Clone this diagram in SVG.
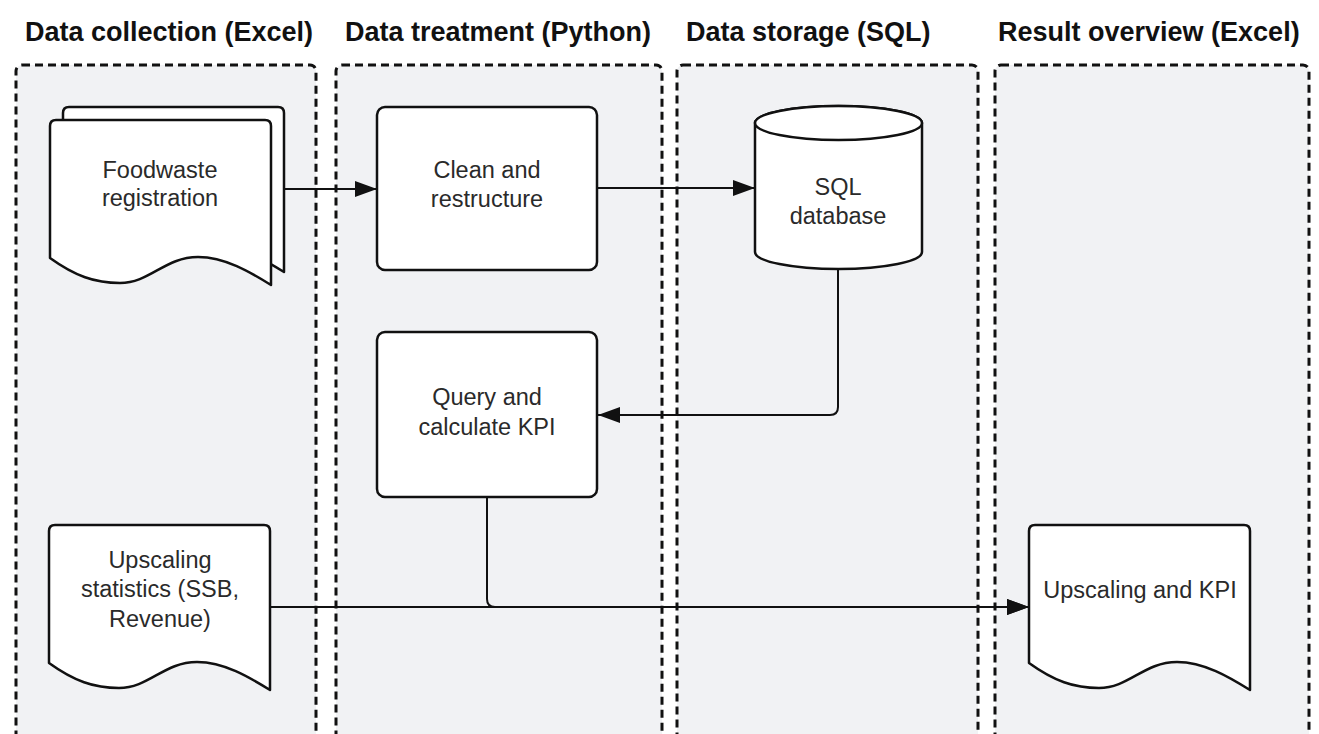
<svg xmlns="http://www.w3.org/2000/svg" xmlns:xlink="http://www.w3.org/1999/xlink" width="1319" height="734" viewBox="0 0 1319 734">
<style>
.lane{fill:#f1f2f4;stroke:#111;stroke-width:3;stroke-dasharray:8 5}
.title{font-family:"Liberation Sans",Arial,sans-serif;font-weight:bold;font-size:27px;fill:#111}
.node{fill:#fff;stroke:#111;stroke-width:2.5;stroke-linejoin:round}
.label{font-family:"Liberation Sans",Arial,sans-serif;font-size:23.5px;fill:#2a2a2a;text-anchor:middle}
.conn{fill:none;stroke:#111;stroke-width:2}
</style>
<defs>
<path id="doc" d="M0,138 V6 Q0,0 6,0 H215 Q221,0 221,6 V165 C200,152 175,137 148,137 C115,137 100,163 70,163 C45,163 25,156 0,138 Z"/>
<marker id="arr" markerUnits="userSpaceOnUse" viewBox="0 0 22 16" refX="22" refY="8" markerWidth="22" markerHeight="16" orient="auto">
<path d="M0,0 L22,8 L0,16 Z" fill="#111"/>
</marker>
</defs>
<rect width="1319" height="734" fill="#fff"/>
<g id="lanes">
<rect class="lane" x="16" y="65" width="300" height="720" rx="6"/>
<rect class="lane" x="336" y="65" width="326" height="720" rx="6"/>
<rect class="lane" x="677" y="65" width="301" height="720" rx="6"/>
<rect class="lane" x="995" y="65" width="314" height="720" rx="6"/>
<text class="title" x="25" y="41">Data collection (Excel)</text>
<text class="title" x="345" y="41">Data treatment (Python)</text>
<text class="title" x="686" y="41">Data storage (SQL)</text>
<text class="title" x="998" y="41">Result overview (Excel)</text>
</g>
<g id="connectors">
<path class="conn" d="M283,189 H377" marker-end="url(#arr)"/>
<path class="conn" d="M597,188 H755" marker-end="url(#arr)"/>
<path class="conn" d="M838,269 V407 Q838,415 830,415 H598" marker-end="url(#arr)"/>
<path class="conn" d="M270,607 H1029" marker-end="url(#arr)"/>
<path class="conn" d="M487,497 V599 Q487,607 495,607 H1029" marker-end="url(#arr)"/>
</g>
<g id="foodwaste">
<use xlink:href="#doc" href="#doc" class="node" x="63" y="107"/>
<use xlink:href="#doc" href="#doc" class="node" x="50" y="120"/>
<text class="label" x="160" y="178">Foodwaste</text>
<text class="label" x="160" y="206">registration</text>
</g>
<g id="clean">
<rect class="node" x="377" y="107" width="220" height="163" rx="8"/>
<text class="label" x="487" y="178">Clean and</text>
<text class="label" x="487" y="207">restructure</text>
</g>
<g id="sqldb">
<path class="node" d="M755,123 V252 A83.5,17 0 0 0 922,252 V123 A83.5,17 0 0 0 755,123 Z"/>
<ellipse class="node" cx="838.5" cy="123" rx="83.5" ry="17"/>
<text class="label" x="838" y="195">SQL</text>
<text class="label" x="838" y="224">database</text>
</g>
<g id="query">
<rect class="node" x="377" y="332" width="220" height="165" rx="8"/>
<text class="label" x="487" y="405">Query and</text>
<text class="label" x="487" y="435">calculate KPI</text>
</g>
<g id="upscaling-stats">
<use xlink:href="#doc" href="#doc" class="node" x="49" y="525"/>
<text class="label" x="160" y="568">Upscaling</text>
<text class="label" x="160" y="597">statistics (SSB,</text>
<text class="label" x="160" y="627">Revenue)</text>
</g>
<g id="upscaling-kpi">
<use xlink:href="#doc" href="#doc" class="node" x="1029" y="525"/>
<text class="label" x="1140" y="598">Upscaling and KPI</text>
</g>
</svg>
